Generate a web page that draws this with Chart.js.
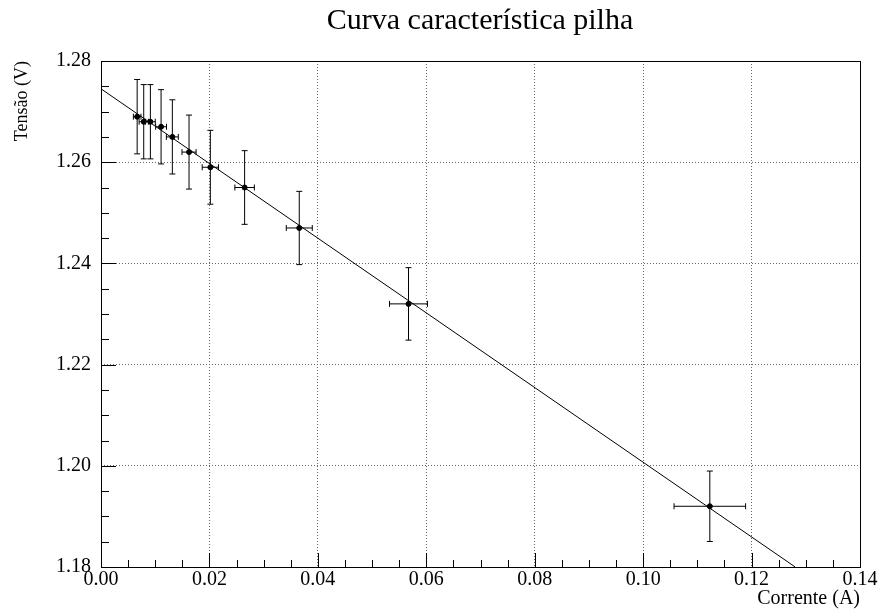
<!DOCTYPE html>
<html>
<head>
<meta charset="utf-8">
<script src="https://cdn.jsdelivr.net/npm/chart.js@4.4.0/dist/chart.umd.min.js"></script>
<style>
  html, body { margin: 0; padding: 0; background: #fff; }
</style>
</head>
<body>
<canvas id="chart" width="895" height="611"></canvas>
<script>
// measured points (current in A, voltage in V)
const current    = [0.00667, 0.00788, 0.00911, 0.01108, 0.01316, 0.01624, 0.02017, 0.02649, 0.03657, 0.05672, 0.1123];
const voltage    = [1.269, 1.268, 1.268, 1.267, 1.265, 1.262, 1.259, 1.255, 1.247, 1.232, 1.192];
const currentErr = [0.0007, 0.00085, 0.0009, 0.001, 0.0011, 0.0013, 0.0015, 0.0018, 0.0024, 0.0035, 0.0066];
const voltageErr = [0.00735, 0.00734, 0.00734, 0.00734, 0.00733, 0.00731, 0.0073, 0.00728, 0.00724, 0.00716, 0.00696];

// linear fit V = a + b*I, drawn between these currents
const fitIntercept = 1.2745;
const fitSlope = -0.738;
const fitRange = [0, 0.128];

const xTicks = [0, 0.02, 0.04, 0.06, 0.08, 0.10, 0.12, 0.14];
const yTicks = [1.18, 1.20, 1.22, 1.24, 1.26, 1.28];

const titleText = 'Curva característica pilha';
const serif = '"Liberation Serif", "DejaVu Serif", serif';

const points = current.map((x, i) => ({ x: x, y: voltage[i] }));
const fitLine = fitRange.map(x => ({ x: x, y: fitIntercept + fitSlope * x }));

// error bars with small end caps
const errorBars = {
  id: 'errorBars',
  beforeDatasetsDraw(chart) {
    const { ctx, scales: { x, y } } = chart;
    const cap = 3;
    ctx.save();
    ctx.strokeStyle = '#000';
    ctx.lineWidth = 1;
    points.forEach((p, i) => {
      const px = x.getPixelForValue(p.x);
      const py = y.getPixelForValue(p.y);
      const x0 = x.getPixelForValue(p.x - currentErr[i]);
      const x1 = x.getPixelForValue(p.x + currentErr[i]);
      const y0 = y.getPixelForValue(p.y - voltageErr[i]);
      const y1 = y.getPixelForValue(p.y + voltageErr[i]);
      ctx.beginPath();
      ctx.moveTo(x0, py); ctx.lineTo(x1, py);
      ctx.moveTo(x0, py - cap); ctx.lineTo(x0, py + cap);
      ctx.moveTo(x1, py - cap); ctx.lineTo(x1, py + cap);
      ctx.moveTo(px, y0); ctx.lineTo(px, y1);
      ctx.moveTo(px - cap, y0); ctx.lineTo(px + cap, y0);
      ctx.moveTo(px - cap, y1); ctx.lineTo(px + cap, y1);
      ctx.stroke();
    });
    ctx.restore();
  }
};

// frame box, inward ticks and the title (off-centre like the original)
const frame = {
  id: 'frame',
  afterDraw(chart) {
    const { ctx, chartArea: a, scales: { x, y } } = chart;
    ctx.save();
    ctx.strokeStyle = '#000';
    ctx.lineWidth = 1;
    ctx.strokeRect(Math.round(a.left) + 0.5, Math.round(a.top) + 0.5,
                   Math.round(a.right - a.left), Math.round(a.bottom - a.top));
    ctx.beginPath();
    for (let k = 0; k <= 28; k++) {
      const v = x.min + k * 0.005;
      const px = Math.round(x.getPixelForValue(v)) + 0.5;
      const len = k % 4 === 0 ? 14 : 7;
      ctx.moveTo(px, a.bottom); ctx.lineTo(px, a.bottom - len);
    }
    for (let k = 0; k <= 20; k++) {
      const v = y.min + k * 0.005;
      const py = Math.round(y.getPixelForValue(v)) + 0.5;
      const len = k % 4 === 0 ? 15 : 8;
      ctx.moveTo(a.left, py); ctx.lineTo(a.left + len, py);
    }
    ctx.stroke();

    ctx.fillStyle = '#000';
    ctx.font = '30px ' + serif;
    ctx.textAlign = 'center';
    ctx.textBaseline = 'alphabetic';
    ctx.fillText(titleText, 480, 29);
    ctx.restore();
  }
};

new Chart(document.getElementById('chart'), {
  type: 'scatter',
  data: {
    datasets: [
      {
        label: 'fit',
        type: 'line',
        data: fitLine,
        borderColor: '#000',
        borderWidth: 1,
        pointRadius: 0,
        fill: false
      },
      {
        label: 'dados',
        data: points,
        backgroundColor: '#000',
        borderColor: '#000',
        pointRadius: 2.5,
        pointHoverRadius: 2.5
      }
    ]
  },
  options: {
    responsive: false,
    animation: false,
    devicePixelRatio: 1,
    layout: { padding: { left: 0, right: 35, top: 61, bottom: 0 } },
    plugins: {
      legend: { display: false },
      tooltip: { enabled: false },
      title: { display: false }
    },
    scales: {
      x: {
        type: 'linear',
        min: 0, max: 0.14,
        afterBuildTicks: s => { s.ticks = xTicks.map(v => ({ value: v })); },
        afterFit: s => { s.height = 44; },
        ticks: {
          color: '#000',
          padding: 1,
          maxRotation: 0,
          font: { family: serif, size: 20 },
          callback: v => v.toFixed(2)
        },
        grid: { color: '#666', lineWidth: 1, drawTicks: false },
        border: { display: false, dash: [1, 2] },
        title: {
          display: true,
          text: 'Corrente (A)',
          align: 'end',
          color: '#000',
          font: { family: serif, size: 20 },
          padding: { top: 0, bottom: 0 }
        }
      },
      y: {
        type: 'linear',
        min: 1.18, max: 1.28,
        afterBuildTicks: s => { s.ticks = yTicks.map(v => ({ value: v })); },
        afterFit: s => { s.width = 101; },
        ticks: {
          color: '#000',
          padding: 10,
          font: { family: serif, size: 20 },
          callback: v => v.toFixed(2)
        },
        grid: { color: '#666', lineWidth: 1, drawTicks: false },
        border: { display: false, dash: [1, 2] },
        title: {
          display: true,
          text: 'Tensão (V)',
          align: 'end',
          color: '#000',
          font: { family: serif, size: 18 },
          padding: { top: 11, bottom: 0 }
        }
      }
    }
  },
  plugins: [errorBars, frame]
});
</script>
</body>
</html>
